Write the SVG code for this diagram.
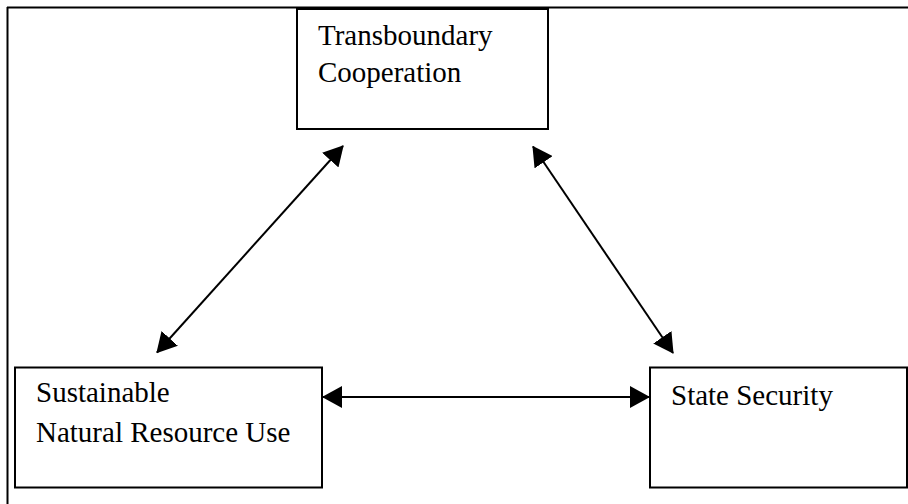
<svg xmlns="http://www.w3.org/2000/svg" width="908" height="504" viewBox="0 0 908 504">
<style>
.box{fill:#fff;stroke:#000;stroke-width:2}
.lbl{font-family:"Liberation Serif","Times New Roman",serif;font-size:29px;fill:#000}
.con{stroke:#000;stroke-width:2;fill:none}
</style>
<defs>
<marker id="ah" viewBox="0 0 20 22" refX="19" refY="11" markerWidth="20" markerHeight="22" markerUnits="userSpaceOnUse" orient="auto-start-reverse">
<path d="M0,0 L20,11 L0,22 Z" fill="#000"/>
</marker>
</defs>
<rect width="908" height="504" fill="#fff"/>
<g id="frame">
<line x1="7" y1="7.5" x2="908" y2="7.5" stroke="#000" stroke-width="2"/>
<line x1="7.5" y1="7" x2="7.5" y2="504" stroke="#000" stroke-width="2"/>
</g>
<g id="node-transboundary">
<rect class="box" x="297" y="9" width="251" height="120"/>
<text class="lbl" x="318" y="45">Transboundary</text>
<text class="lbl" x="318" y="82">Cooperation</text>
</g>
<g id="node-sustainable">
<rect class="box" x="15" y="367.5" width="307" height="120"/>
<text class="lbl" x="36" y="402">Sustainable</text>
<text class="lbl" x="36" y="442">Natural Resource Use</text>
</g>
<g id="node-state">
<rect class="box" x="650" y="367.5" width="257" height="120"/>
<text class="lbl" x="671" y="405">State Security</text>
</g>
<g id="connectors">
<line class="con" x1="157" y1="352.5" x2="343" y2="146" marker-start="url(#ah)" marker-end="url(#ah)"/>
<line class="con" x1="533" y1="146.5" x2="673" y2="353" marker-start="url(#ah)" marker-end="url(#ah)"/>
<line class="con" x1="323" y1="397" x2="649" y2="397" marker-start="url(#ah)" marker-end="url(#ah)"/>
</g>
</svg>
